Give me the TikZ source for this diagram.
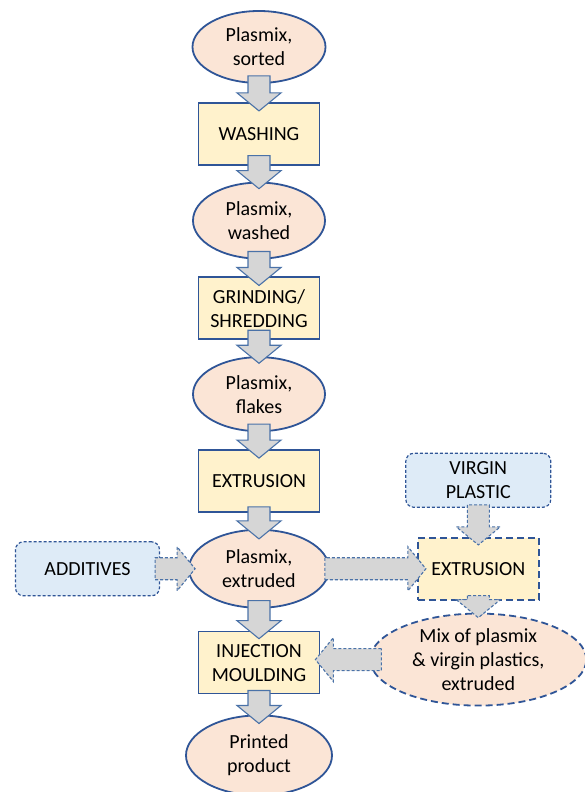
\documentclass[tikz,border=0pt]{standalone}
\usepackage{fontspec}
\setmainfont{Carlito}
\usetikzlibrary{positioning, shapes.geometric, calc}
\definecolor{edgeBlue}{HTML}{2F5597}
\definecolor{arrowBlue}{HTML}{4A72A8}
\definecolor{plasPeach}{HTML}{FBE5D6}
\definecolor{stageYellow}{HTML}{FFF2CC}
\definecolor{inputBlue}{HTML}{DEEBF7}
\definecolor{arrowGray}{HTML}{D6D6D6}

% block arrow from one named point to another
\newcommand{\blockarrow}[3][]{%
  \draw[flowarrow, #1] let \p1=(#2), \p2=(#3),
    \n1={atan2(\y2-\y1,\x2-\x1)}, \n2={veclen(\x2-\x1,\y2-\y1)} in
    {[shift={(\p1)}, rotate=\n1]
    (0,-11) -- ({\n2-18},-11) -- ({\n2-18},-22) -- (\n2,0)
    -- ({\n2-18},22) -- ({\n2-18},11) -- (0,11) -- cycle};}

\begin{document}
\begin{tikzpicture}[x=1pt, y=1pt,
          every node/.style={font=\fontsize{20}{24}\selectfont},
          blob/.style={ellipse, draw=edgeBlue, line width=1.8pt, fill=plasPeach, align=center, inner sep=0pt},
          stage/.style={draw=edgeBlue, line width=1.8pt, fill=stageYellow, align=center, minimum width=121pt, minimum height=62pt},
          source/.style={draw=edgeBlue, line width=1.2pt, dash pattern=on 3pt off 2pt, rounded corners=8pt, fill=inputBlue, align=center, minimum width=144pt, minimum height=54pt},
          sidestage/.style={stage, dash pattern=on 7pt off 4pt},
          sideblob/.style={blob, dash pattern=on 7pt off 4pt},
          flowarrow/.style={draw=arrowBlue, line width=1.1pt, fill=arrowGray, line join=miter},
          sidearrow/.style={dash pattern=on 3pt off 2pt},
        ]
        \useasboundingbox (0,0) rectangle (584,792);

        % main line
        \node[blob, minimum width=133pt, minimum height=72pt] (sorted) at (259,745) {Plasmix,\\sorted};
        \node[stage, below=18pt of sorted] (washing) {WASHING};
        \node[blob, minimum width=132pt, minimum height=76pt, below=16pt of washing] (washed) {Plasmix,\\washed};
        \node[stage, below=17pt of washed] (grinding) {GRINDING/\\SHREDDING};
        \node[blob, minimum width=132pt, minimum height=74pt, below=16pt of grinding] (flakes) {Plasmix,\\flakes};
        \node[stage, below=17pt of flakes] (extrusion) {EXTRUSION};
        \node[blob, minimum width=140pt, minimum height=78pt, below=16pt of extrusion] (extruded) {Plasmix,\\extruded};
        \node[stage, below=22pt of extruded] (injection) {INJECTION\\MOULDING};
        \node[blob, minimum width=146pt, minimum height=80pt, below=20pt of injection] (printed) {Printed\\product};

        % side line
        \node[source, left=28pt of extruded] (additives) {ADDITIVES};
        \node[sidestage, right=87pt of extruded] (extrusionB) {EXTRUSION};
        \node[source, minimum width=145pt, above=29pt of extrusionB] (virgin) {VIRGIN\\PLASTIC};
        \node[sideblob, minimum width=216pt, minimum height=92pt, below=12pt of extrusionB] (mix) {Mix of plasmix\\\& virgin plastics,\\extruded};
        \coordinate (mixin) at (injection.east |- mix.west);

        \blockarrow{[yshift=8pt]sorted.south}{[yshift=-9pt]washing.north}
        \blockarrow{[yshift=10pt]washing.south}{[yshift=-7pt]washed.north}
        \blockarrow{[yshift=8pt]washed.south}{[yshift=-9pt]grinding.north}
        \blockarrow{[yshift=10pt]grinding.south}{[yshift=-7pt]flakes.north}
        \blockarrow{[yshift=8pt]flakes.south}{[yshift=-9pt]extrusion.north}
        \blockarrow{[yshift=6pt]extrusion.south}{[yshift=-10pt]extruded.north}
        \blockarrow{[yshift=8pt]extruded.south}{[yshift=-8pt]injection.north}
        \blockarrow{[yshift=4pt]injection.south}{[yshift=-9pt]printed.north}

        \blockarrow[sidearrow]{[xshift=-5pt]additives.east}{[xshift=7pt]extruded.west}
        \blockarrow[sidearrow]{[xshift=-5pt]extruded.east}{[xshift=9pt]extrusionB.west}
        \blockarrow[sidearrow]{[yshift=3pt]virgin.south}{[yshift=-8pt]extrusionB.north}
        \blockarrow[sidearrow]{[yshift=5pt]extrusionB.south}{[yshift=-5pt]mix.north}
        \blockarrow[sidearrow]{[xshift=12pt]mix.west}{[xshift=-5pt]mixin}
      \end{tikzpicture}
\end{document}
